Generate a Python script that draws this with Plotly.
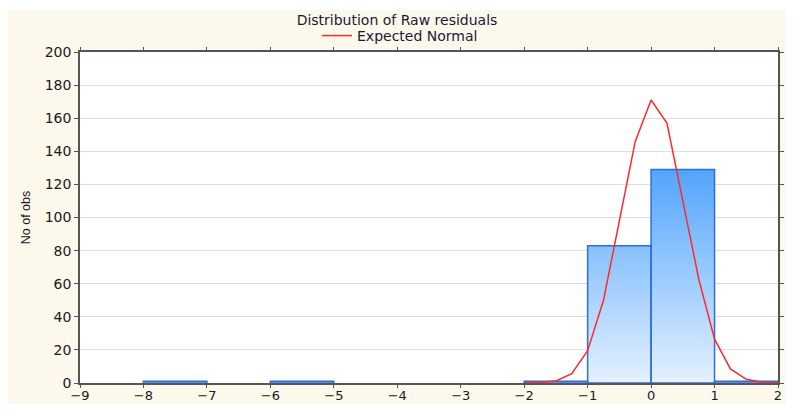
import plotly.graph_objects as go

# ---- data ----
bin_left = [-9, -8, -7, -6, -5, -4, -3, -2, -1, 0, 1]
bin_right = [-8, -7, -6, -5, -4, -3, -2, -1, 0, 1, 2]
counts = [0, 1, 0, 1, 0, 0, 0, 1, 83, 129, 1]

normal_x = [-2, -1.75, -1.5, -1.25, -1, -0.75, -0.5, -0.25, 0, 0.25, 0.5, 0.75, 1, 1.25, 1.5, 1.75, 2]
normal_y = [0.1, 0.4, 1.2, 5.6, 19.5, 50, 98, 146, 171, 157, 110, 63, 26.5, 8.5, 2.2, 0.4, 0.1]

title_text = "Distribution of Raw residuals"
legend_name = "Expected Normal"
y_title = "No of obs"

# ---- build bar polygons ----
px, py = [], []
for l, r, c in zip(bin_left, bin_right, counts):
    if c <= 0:
        continue
    px += [l, l, r, r, l, None]
    py += [0, c, c, 0, 0, None]

fig = go.Figure()
fig.add_trace(go.Scatter(
    x=px, y=py, mode="lines", fill="toself",
    line=dict(color="#2f6ddc", width=1.5),
    fillgradient=dict(type="vertical",
                      colorscale=[[0, "#e4f1ff"], [1, "#52a5fd"]],
                      start=0, stop=129),
    showlegend=False, hoverinfo="skip",
))
fig.add_trace(go.Scatter(
    x=normal_x, y=normal_y, mode="lines", name=legend_name,
    line=dict(color="#ff2a2a", width=1.5),
))

# page has an 8px body margin; figure occupies page pixels 8..786 x 8..404
OFF = 8
W, H = 778, 396
L, R, T, B = 72, 8, 44, 21
ph = H - T - B
pw = W - L - R

def py_(pix):  # pix in page coordinates
    return (H - B - (pix - OFF)) / ph

def px_(pix):
    return (pix - OFF - L) / pw

shapes = [
    # white top strip
    dict(type="rect", xref="paper", yref="paper", x0=px_(0), x1=px_(800), y0=py_(10), y1=py_(0),
         fillcolor="white", line=dict(width=0), layer="above"),
]

fig.update_layout(
    width=W, height=H,
    margin=dict(l=L, r=R, t=T, b=B),
    paper_bgcolor="#fdf8ec",
    plot_bgcolor="white",
    font=dict(family="DejaVu Sans, Arial, sans-serif", color="#1a1a2e", size=13),
    title=dict(text=title_text, x=0.5, xanchor="center", y=1 - (20 - OFF) / H, yanchor="middle",
               font=dict(size=14, color="#1a1a33")),
    legend=dict(orientation="h", x=px_(400), xanchor="center", y=py_(36), yanchor="middle",
                bgcolor="rgba(0,0,0,0)", font=dict(size=14, color="#1a1a33"),
                itemwidth=30),
    xaxis=dict(range=[-9, 2], dtick=1, tick0=-9, showgrid=False, zeroline=False,
               showline=True, linecolor="#555555", linewidth=1.5, mirror="ticks",
               ticks="outside", ticklen=3, tickcolor="#555555", ticklabelstandoff=-3,
               tickfont=dict(size=13, color="#1a1a1a"), automargin=False),
    yaxis=dict(range=[0, 200], dtick=20, showgrid=True, gridcolor="#dedede", zeroline=False,
               showline=True, linecolor="#555555", linewidth=1.5, mirror="ticks",
               ticks="outside", ticklen=4, tickcolor="#555555",
               tickfont=dict(size=14, color="#1a1a1a"), automargin=False,
               title=dict(text=y_title, standoff=11,
                          font=dict(family="Liberation Sans, Arial, sans-serif",
                                    size=12.5, color="#1a1a1a"))),
    shapes=shapes,
)

fig.write_html("out.html")
